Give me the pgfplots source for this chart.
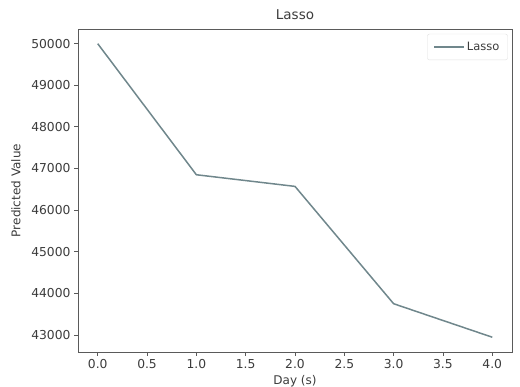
\documentclass[border=0pt]{standalone}
\usepackage{fontspec}
\setmainfont{DejaVu Sans}
\usepackage{pgfplots}
\pgfplotsset{compat=1.18}
\definecolor{linec}{RGB}{112,135,140}
\definecolor{txt}{RGB}{60,60,60}
\definecolor{axc}{RGB}{90,90,90}
\begin{document}
\begin{tikzpicture}[x=1pt,y=1pt]
\path[use as bounding box] (0,0) rectangle (520,387);
\begin{axis}[
  at={(78pt,35pt)}, anchor=south west,
  width=434pt, height=323pt, scale only axis,
  xmin=-0.2, xmax=4.2, ymin=42590, ymax=50353,
  xtick={0,0.5,...,4}, ytick={43000,44000,...,50000},
  scaled ticks=false,
  xticklabel style={/pgf/number format/fixed, /pgf/number format/fixed zerofill, /pgf/number format/precision=1},
  yticklabel style={/pgf/number format/fixed, /pgf/number format/1000 sep={}},
  /pgf/number format/assume math mode=true,
  tick align=outside, tick pos=lower,
  major tick length=4pt,
  every tick/.style={axc, line width=0.8pt},
  axis line style={axc, line width=0.9pt},
  ticklabel style={font=\fontsize{12.3}{14}\selectfont, text=txt},
  title={Lasso}, title style={font=\fontsize{13.5}{15}\selectfont, text=txt, yshift=0pt},
  xlabel={Day (s)}, xlabel style={font=\fontsize{12}{14}\selectfont, text=txt, yshift=0pt},
  ylabel={Predicted Value}, ylabel style={font=\fontsize{12}{14}\selectfont, text=txt, yshift=4pt},
  legend style={at={(0.99,0.985)}, anchor=north east, draw=black!12, rounded corners=2pt,
     font=\fontsize{11.5}{13}\selectfont, text=txt, inner xsep=6pt, inner ysep=6pt},
  legend cell align=left,
  legend image code/.code={\draw[#1, line width=1.5pt] (0pt,0pt) -- (30pt,0pt);},
]
\addplot[linec, line width=1.5pt] coordinates {
 (0,50000) (1,46850) (2,46570) (3,43750) (4,42945)
};
\addlegendentry{Lasso}
\end{axis}
\end{tikzpicture}
\end{document}
